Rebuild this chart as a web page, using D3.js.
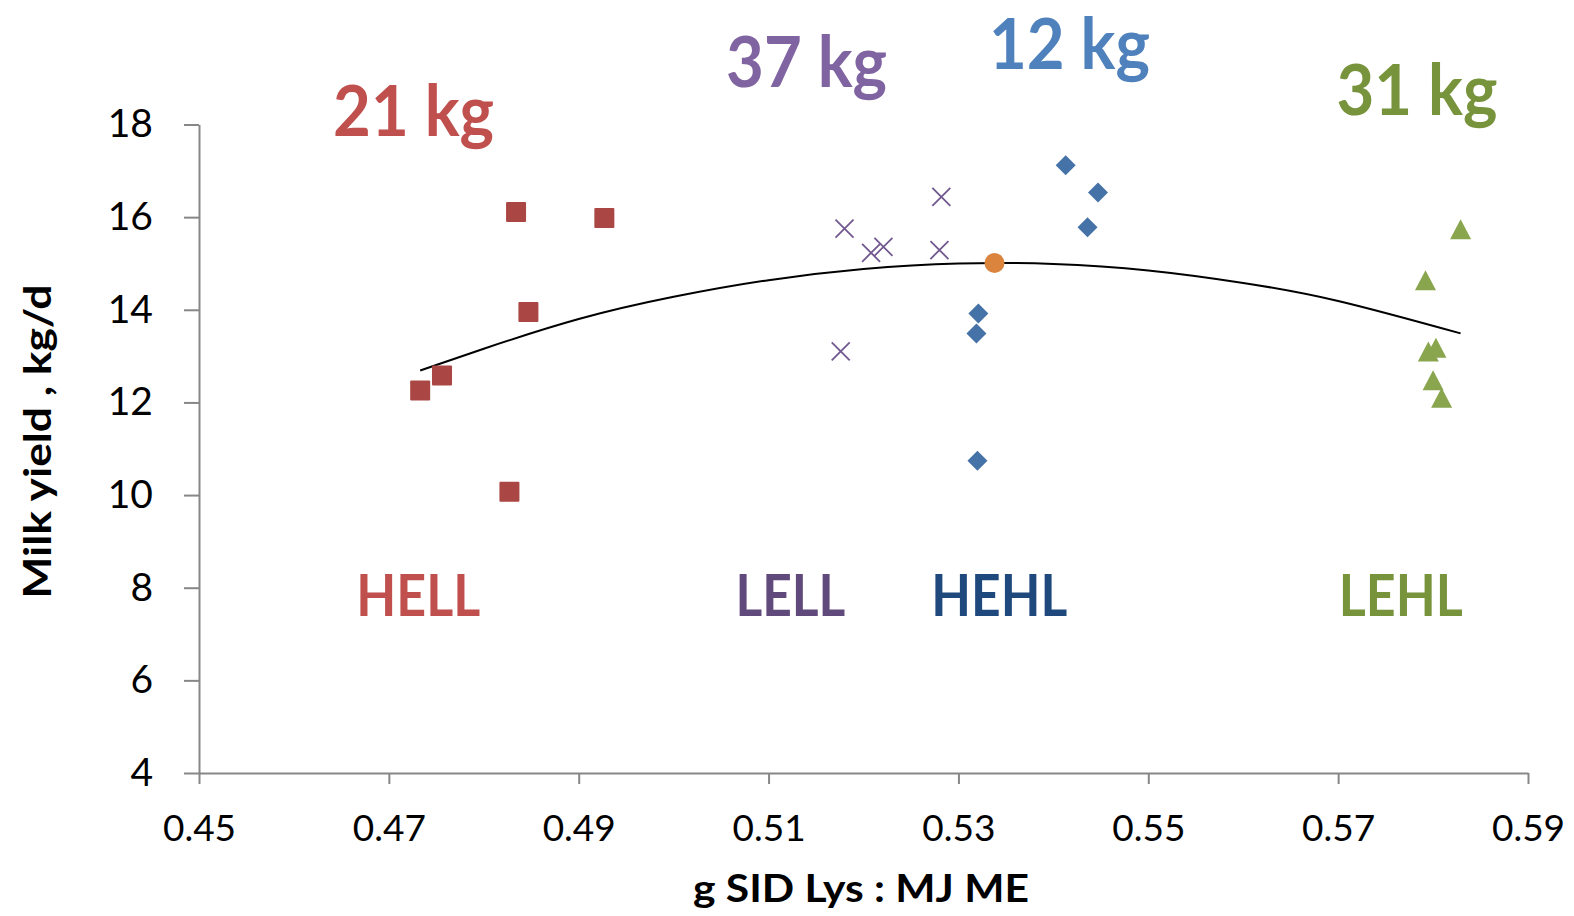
<!DOCTYPE html>
<html>
<head>
<meta charset="utf-8">
<script src="https://cdn.jsdelivr.net/npm/d3@7"></script>
<style>
  body { margin: 0; background: #fff; }
  text { font-family: Lato, "Open Sans", sans-serif; }
</style>
</head>
<body>
<div id="chart"></div>
<script>
// data: [g SID Lys : MJ ME, milk yield kg/d]
const hell = [[0.4733, 12.26], [0.4756, 12.58], [0.4834, 16.11], [0.4927, 15.98], [0.4847, 13.95], [0.4827, 10.07]];
const lell = [[0.5180, 15.75], [0.5208, 15.23], [0.5221, 15.36], [0.5282, 16.44], [0.5280, 15.29], [0.5176, 13.10]];
const hehl = [[0.5413, 17.12], [0.5447, 16.53], [0.5436, 15.78], [0.5321, 13.92], [0.5319, 13.49], [0.5320, 10.74]];
const lehl = [[0.5829, 15.74], [0.5792, 14.64], [0.5795, 13.10], [0.5803, 13.18], [0.5800, 12.48], [0.5809, 12.10]];
const optimum = [[0.5338, 15.01]];
const trend = [[0.4733, 12.69], [0.48, 13.16], [0.49, 13.80], [0.50, 14.28], [0.51, 14.64], [0.52, 14.88],
               [0.53, 15.00], [0.54, 14.99], [0.55, 14.85], [0.56, 14.58], [0.57, 14.19], [0.5829, 13.49]];

const xTicks = [0.45, 0.47, 0.49, 0.51, 0.53, 0.55, 0.57, 0.59];
const yTicks = [4, 6, 8, 10, 12, 14, 16, 18];

// group labels and the loss text above each group
const groupNames = ['HELL', 'LELL', 'HEHL', 'LEHL'];
const groupLabelX = [0.4731, 0.5123, 0.5343, 0.5766];
const lossText = ['21 kg', '37 kg', '12 kg', '31 kg'];
const lossX = [0.4726, 0.5140, 0.5417, 0.5783];
const lossY = [17.75, 18.8, 19.2, 18.2];

const width = 1574, height = 916;
const margin = { top: 124.5, right: 46, bottom: 143, left: 199 };
const iw = width - margin.left - margin.right;
const ih = height - margin.top - margin.bottom;

const svg = d3.select('#chart').append('svg')
  .attr('width', width)
  .attr('height', height);

const g = svg.append('g')
  .attr('transform', `translate(${margin.left},${margin.top})`);

const x = d3.scaleLinear().domain([0.45, 0.59]).range([0, iw]);
const y = d3.scaleLinear().domain([4, 18]).range([ih, 0]);

// axes
const yAxis = g.append('g')
  .call(d3.axisLeft(y).tickValues(yTicks).tickSize(15).tickPadding(31).tickSizeOuter(0));
const xAxis = g.append('g')
  .attr('transform', `translate(0,${ih})`)
  .call(d3.axisBottom(x).tickValues(xTicks).tickFormat(d3.format('.2f')).tickSize(11).tickPadding(38).tickSizeOuter(0));

[yAxis, xAxis].forEach(a => {
  a.select('.domain').attr('stroke', '#878787').attr('stroke-width', 2);
  a.selectAll('.tick line').attr('stroke', '#878787').attr('stroke-width', 2);
  a.selectAll('.tick text').attr('fill', '#000').style('font-family', 'Lato, sans-serif').style('font-size', '37px');
});
yAxis.selectAll('.tick text').style('font-size', '39px');
xAxis.selectAll('.tick text').attr('dy', '0.5em');

// axis titles
svg.append('text')
  .attr('transform', `translate(51,${(285 + 598) / 2}) rotate(-90)`)
  .attr('text-anchor', 'middle')
  .attr('font-size', '38px')
  .attr('font-weight', 700)
  .attr('textLength', 314)
  .attr('lengthAdjust', 'spacingAndGlyphs')
  .text('Milk yield , kg/d');

svg.append('text')
  .attr('x', 861)
  .attr('y', 902)
  .attr('text-anchor', 'middle')
  .attr('font-size', '38px')
  .attr('font-weight', 700)
  .attr('textLength', 336)
  .attr('lengthAdjust', 'spacingAndGlyphs')
  .text('g SID Lys : MJ ME');

// trend line
g.append('path')
  .datum(trend)
  .attr('fill', 'none')
  .attr('stroke', '#000')
  .attr('stroke-width', 2)
  .attr('d', d3.line().x(d => x(d[0])).y(d => y(d[1])).curve(d3.curveNatural));

// markers
g.selectAll('.hell').data(hell).enter().append('rect')
  .attr('class', 'hell')
  .attr('x', d => x(d[0]) - 10).attr('y', d => y(d[1]) - 10)
  .attr('width', 20).attr('height', 20).attr('rx', 1)
  .attr('fill', '#AA4643');

g.selectAll('.lell').data(lell).enter().append('path')
  .attr('class', 'lell')
  .attr('transform', d => `translate(${x(d[0])},${y(d[1])})`)
  .attr('d', 'M-9,-9L9,9M-9,9L9,-9')
  .attr('stroke', '#71588F').attr('stroke-width', 1.8).attr('fill', 'none');

g.selectAll('.hehl').data(hehl).enter().append('path')
  .attr('class', 'hehl')
  .attr('transform', d => `translate(${x(d[0])},${y(d[1])})`)
  .attr('d', 'M0,-10L10,0L0,10L-10,0Z')
  .attr('fill', '#4572A7');

g.selectAll('.lehl').data(lehl).enter().append('path')
  .attr('class', 'lehl')
  .attr('transform', d => `translate(${x(d[0])},${y(d[1])})`)
  .attr('d', 'M0,-10L10.5,10L-10.5,10Z')
  .attr('fill', '#89A54E');

g.selectAll('.opt').data(optimum).enter().append('circle')
  .attr('class', 'opt')
  .attr('cx', d => x(d[0])).attr('cy', d => y(d[1])).attr('r', 10)
  .attr('fill', '#DB843D');

// labels
const nameColors = ['#C0504D', '#604A7B', '#1F497D', '#77933C'];
const lossColors = ['#C0504D', '#8064A2', '#4F81BD', '#77933C'];
const nameWidths = [124, 110, 136, 124];

groupNames.forEach((n, i) => {
  g.append('text')
    .attr('x', x(groupLabelX[i]))
    .attr('y', y(8) + 28)
    .attr('text-anchor', 'middle')
    .attr('font-size', '58px')
    .attr('font-weight', 700)
    .attr('fill', nameColors[i])
    .attr('textLength', nameWidths[i])
    .attr('lengthAdjust', 'spacingAndGlyphs')
    .text(n);
});

lossText.forEach((t, i) => {
  g.append('text')
    .attr('x', x(lossX[i]))
    .attr('y', y(lossY[i]))
    .attr('text-anchor', 'middle')
    .attr('font-size', '70px')
    .attr('font-weight', 700)
    .attr('fill', lossColors[i])
    .attr('textLength', 161)
    .attr('lengthAdjust', 'spacingAndGlyphs')
    .text(t);
});
</script>
</body>
</html>
